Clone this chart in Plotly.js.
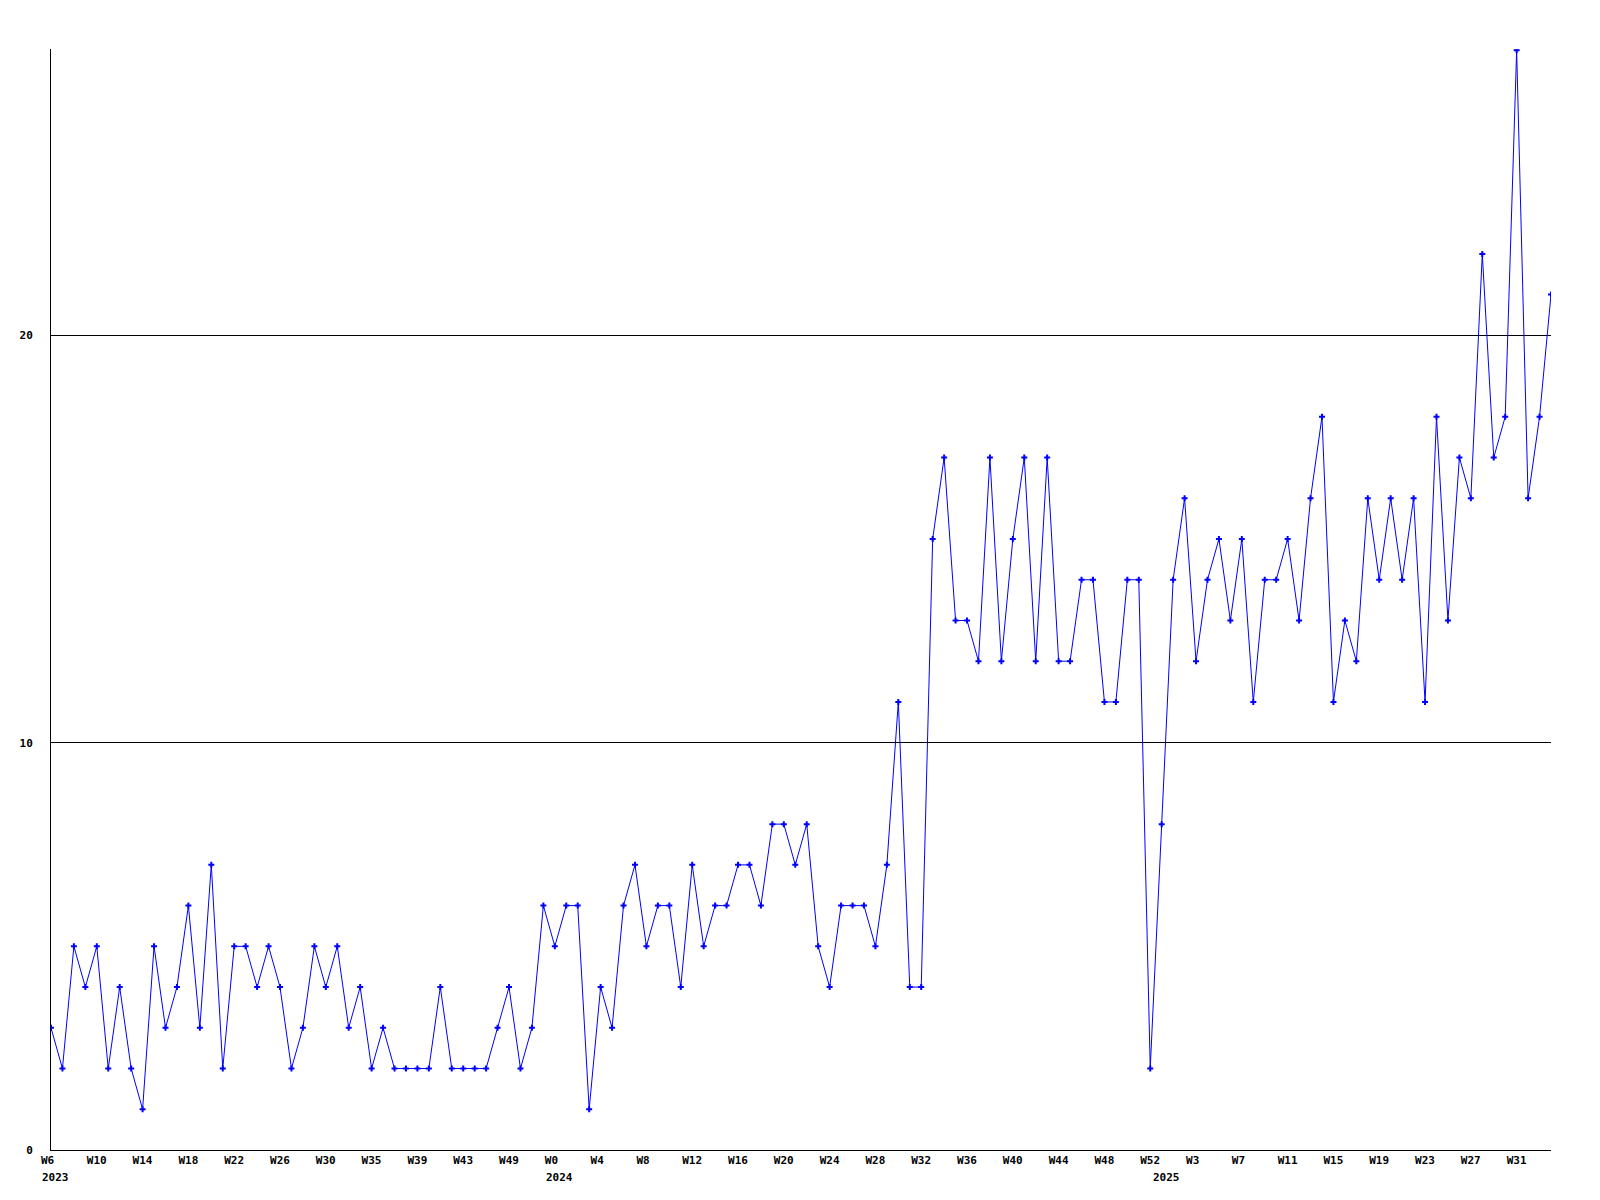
<!DOCTYPE html>
<html>
<head>
<meta charset="utf-8">
<script src="https://cdn.plot.ly/plotly-3.0.1.min.js"></script>
<style>
  html, body { margin: 0; padding: 0; background: #ffffff; }
  #chart { width: 1600px; height: 1200px; }
</style>
</head>
<body>
<div id="chart"></div>
<script>
// Weekly counts, one value per week, 2023 W6 onward
const weeklyValues = [
  3, 2, 5, 4, 5, 2, 4, 2, 1, 5,
  3, 4, 6, 3, 7, 2, 5, 5, 4, 5,
  4, 2, 3, 5, 4, 5, 3, 4, 2, 3,
  2, 2, 2, 2, 4, 2, 2, 2, 2, 3,
  4, 2, 3, 6, 5, 6, 6, 1, 4, 3,
  6, 7, 5, 6, 6, 4, 7, 5, 6, 6,
  7, 7, 6, 8, 8, 7, 8, 5, 4, 6,
  6, 6, 5, 7, 11, 4, 4, 15, 17, 13,
  13, 12, 17, 12, 15, 17, 12, 17, 12, 12,
  14, 14, 11, 11, 14, 14, 2, 8, 14, 16,
  12, 14, 15, 13, 15, 11, 14, 14, 15, 13,
  16, 18, 11, 13, 12, 16, 14, 16, 14, 16,
  11, 18, 13, 17, 16, 22, 17, 18, 27, 16,
  18, 21
];

// Week labels shown on every 4th week
const weekTickLabels = [
  'W6', 'W10', 'W14', 'W18', 'W22', 'W26', 'W30', 'W35', 'W39', 'W43', 'W49',
  'W0', 'W4', 'W8', 'W12', 'W16', 'W20', 'W24', 'W28', 'W32', 'W36', 'W40',
  'W44', 'W48', 'W52', 'W3', 'W7', 'W11', 'W15', 'W19', 'W23', 'W27', 'W31'
];
const weekTickStep = 4;

// Year labels and the week index where each year starts
const yearLabels = ['2023', '2024', '2025'];
const yearStartWeek = [0, 44, 97];

// Y axis ticks
const yTickValues = [0, 10, 20];
const yTickLabels = ['0', '10', '20'];

const weekIndex = weeklyValues.map((_, i) => i);
const tickPositions = weekTickLabels.map((_, i) => i * weekTickStep);
const yLabelWidth = Math.max(...yTickLabels.map(s => s.length));
const yTickTextPadded = yTickLabels.map(s => '\u00a0'.repeat(yLabelWidth - s.length) + s);

const labelFont = { family: 'DejaVu Sans Mono, monospace', size: 11, color: '#000000', weight: 'bold' };

const trace = {
  x: weekIndex,
  y: weeklyValues,
  type: 'scatter',
  mode: 'lines+markers',
  line: { color: '#0000ff', width: 1 },
  marker: { symbol: 'cross', size: 5, color: '#0000ff', line: { width: 0 } },
  cliponaxis: true,
  hoverinfo: 'x+y'
};

const annotations = yearLabels.map((txt, i) => ({
  x: yearStartWeek[i],
  xref: 'x',
  y: 0,
  yref: 'paper',
  xanchor: 'left',
  yanchor: 'top',
  xshift: -11,
  yshift: -19,
  text: txt,
  showarrow: false,
  font: labelFont
}));

const layout = {
  width: 1600,
  height: 1200,
  paper_bgcolor: '#ffffff',
  plot_bgcolor: '#ffffff',
  margin: { l: 51, r: 49, t: 49, b: 50, pad: 0 },
  showlegend: false,
  xaxis: {
    range: [0, weeklyValues.length - 1],
    tickmode: 'array',
    tickvals: tickPositions,
    ticktext: weekTickLabels,
    ticklabelposition: 'outside right',
    ticklabelshift: -11,
    ticks: 'outside',
    ticklen: 4,
    tickcolor: 'rgba(0,0,0,0)',
    showgrid: false,
    zeroline: false,
    showline: true,
    linecolor: '#000000',
    linewidth: 1,
    tickfont: labelFont,
    fixedrange: true
  },
  yaxis: {
    range: [0, 27.03],
    tickmode: 'array',
    tickvals: yTickValues,
    ticktext: yTickTextPadded,
    ticks: 'outside',
    ticklen: 15,
    tickcolor: 'rgba(0,0,0,0)',
    showgrid: true,
    gridcolor: '#000000',
    gridwidth: 1,
    zeroline: false,
    showline: true,
    linecolor: '#000000',
    linewidth: 1,
    tickfont: labelFont,
    fixedrange: true
  },
  annotations: annotations
};

Plotly.newPlot('chart', [trace], layout, { displayModeBar: false, staticPlot: true });
</script>
</body>
</html>
